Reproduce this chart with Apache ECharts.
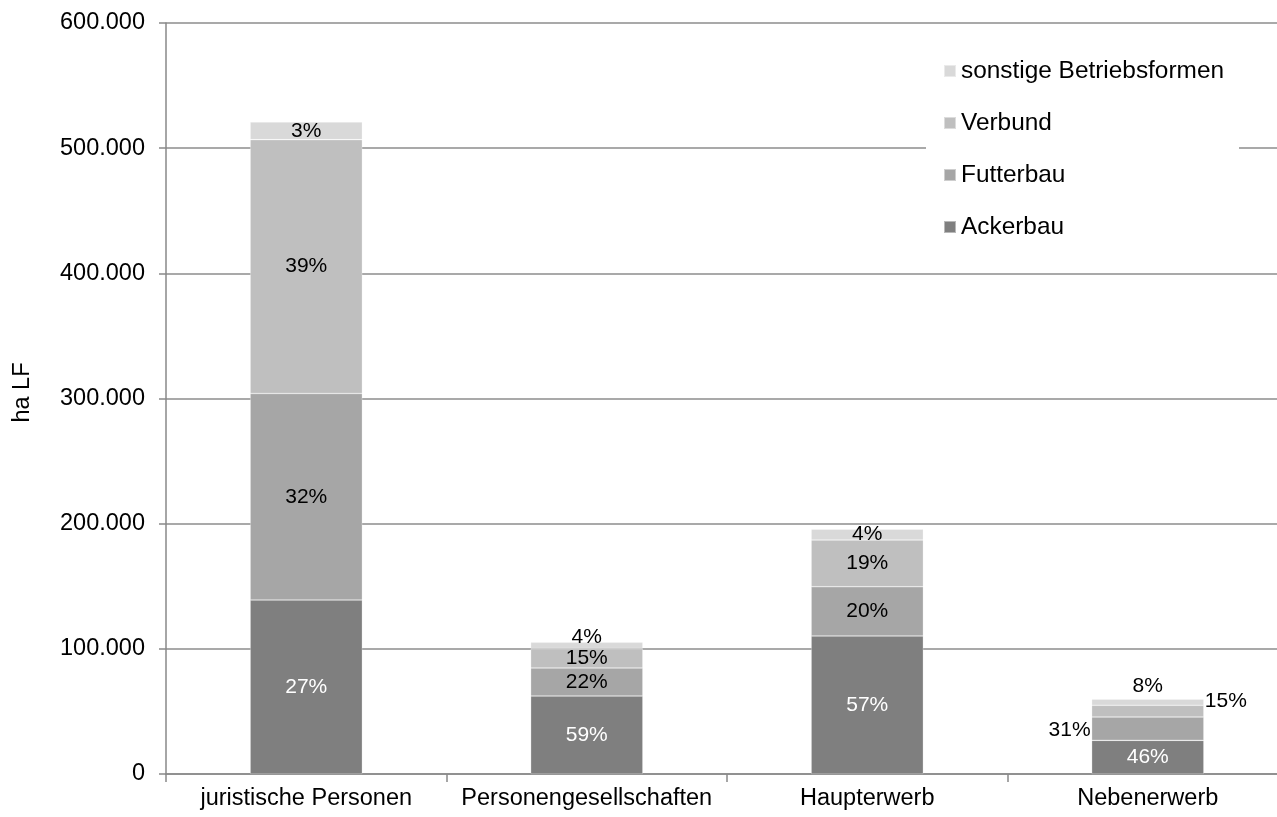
<!DOCTYPE html>
<html><head><meta charset="utf-8">
<script src="https://cdn.jsdelivr.net/npm/echarts@6/dist/echarts.min.js"></script>
<style>html,body{margin:0;padding:0;background:#fff;overflow:hidden}#c{width:1300px;height:817px}</style>
</head><body><div id="c"></div>
<script>
const categories = ['juristische Personen', 'Personengesellschaften', 'Haupterwerb', 'Nebenerwerb'];
const ackerbau = [139000, 62300, 110300, 26900];
const futterbau = [165000, 22400, 39300, 18600];
const verbund = [202800, 15500, 37300, 9400];
const sonstige = [14100, 5000, 8600, 4900];
const ackerbauPct = ['27%', '59%', '57%', '46%'];
const futterbauPct = ['32%', '22%', '20%', '31%'];
const verbundPct = ['39%', '15%', '19%', '15%'];
const sonstigePct = ['3%', '4%', '4%', '8%'];
const yTicks = [0, 100000, 200000, 300000, 400000, 500000, 600000];

const font = 'Liberation Sans, Arial, sans-serif';
function mk(name, vals, pcts, color, labelColor, overrides) {
  return {
    name, type: 'bar', stack: 'a', barWidth: '40%',
    itemStyle: { color, borderColor: 'rgba(255,255,255,0.45)', borderWidth: 0.6 },
    label: { show: true, position: 'inside', color: labelColor, fontSize: 21, fontFamily: font,
      formatter: p => pcts[p.dataIndex] },
    data: vals.map((v, i) => overrides && overrides[i] ? { value: v, label: overrides[i] } : v)
  };
}
const chart = echarts.init(document.getElementById('c'));
chart.setOption({
  animation: false,
  grid: { left: 166, width: 1122, top: 23, bottom: 43 },
  legend: {
    orient: 'vertical', left: 926, top: 47, backgroundColor: '#fff',
    padding: [12, 15, 12, 17], itemWidth: 12, itemHeight: 12, itemGap: 28,
    icon: 'rect',
    textStyle: { fontSize: 24.4, fontFamily: font, color: '#000', lineHeight: 24 },
    data: ['sonstige Betriebsformen', 'Verbund', 'Futterbau', 'Ackerbau']
  },
  xAxis: {
    type: 'category', data: categories,
    axisLine: { lineStyle: { color: '#898989', width: 1.5 } },
    axisTick: { show: true, interval: 0, length: 8, lineStyle: { color: '#898989', width: 1.5 } },
    axisLabel: { interval: 0, fontSize: 23.5, fontFamily: font, color: '#000', margin: 13 }
  },
  yAxis: {
    type: 'value', min: 0, max: 600000, interval: 100000,
    name: 'ha LF', nameLocation: 'middle', nameGap: 131, nameRotate: 90,
    nameTextStyle: { fontSize: 23.5, fontFamily: font, color: '#000', padding: [0, 0, 0, 12] },
    axisLine: { show: true, lineStyle: { color: '#898989', width: 1.5 } },
    axisTick: { show: true, length: 7, lineStyle: { color: '#898989', width: 1.5 } },
    splitLine: { lineStyle: { color: '#8c8c8c', width: 1.5 } },
    axisLabel: { fontSize: 23.5, fontFamily: font, color: '#000', margin: 21,
      formatter: v => yTicks.includes(v) ? (v === 0 ? '0' : (v / 1000).toFixed(0) + '.000') : '' }
  },
  series: [
    mk('Ackerbau', ackerbau, ackerbauPct, '#7f7f7f', '#fff'),
    mk('Futterbau', futterbau, futterbauPct, '#a6a6a6', '#000', [null, null, null, { position: 'left', distance: 1, offset: [0, 2] }]),
    mk('Verbund', verbund, verbundPct, '#bfbfbf', '#000', [null, null, null, { position: 'right', distance: 1, offset: [0, -10] }]),
    mk('sonstige Betriebsformen', sonstige, sonstigePct, '#d9d9d9', '#000', [null, { position: 'top', distance: -5 }, null, { position: 'top', distance: 2 }])
  ]
});
</script></body></html>
